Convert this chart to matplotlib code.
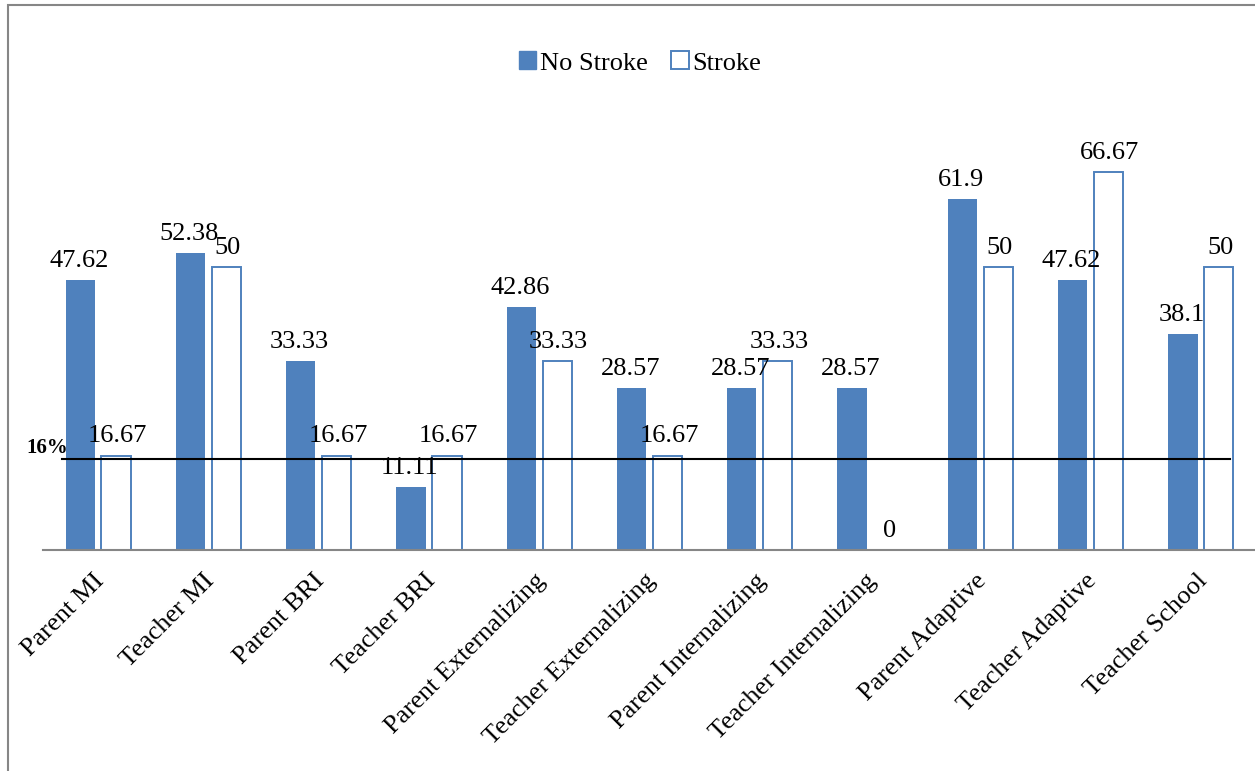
import numpy as np
import matplotlib.pyplot as plt
from matplotlib.patches import Rectangle, Patch
from matplotlib.transforms import ScaledTranslation

categories = ["Parent MI", "Teacher MI", "Parent BRI", "Teacher BRI",
              "Parent Externalizing", "Teacher Externalizing",
              "Parent Internalizing", "Teacher Internalizing",
              "Parent Adaptive", "Teacher Adaptive", "Teacher School"]
no_stroke = [47.62, 52.38, 33.33, 11.11, 42.86, 28.57, 28.57, 28.57, 61.9, 47.62, 38.1]
stroke = [16.67, 50, 16.67, 16.67, 33.33, 16.67, 33.33, 0, 50, 66.67, 50]
no_stroke_txt = ["47.62", "52.38", "33.33", "11.11", "42.86", "28.57", "28.57", "28.57", "61.9", "47.62", "38.1"]
stroke_txt = ["16.67", "50", "16.67", "16.67", "33.33", "16.67", "33.33", "0", "50", "66.67", "50"]
cutoff = 16

BLUE = "#4F81BD"
GRAY = "#868686"
plt.rcParams["font.family"] = ["Liberation Serif", "DejaVu Serif"]

fig = plt.figure(figsize=(12.55, 7.71), dpi=100)
ax = fig.add_axes([43 / 1255, 1 - 550 / 771, 1213 / 1255, 453 / 771])

x = np.arange(len(categories))
w = 0.265
off = 0.163
ax.bar(x - off, no_stroke, w, color=BLUE, edgecolor=BLUE, linewidth=0)
ax.bar(x + off, stroke, w, color="white", edgecolor=BLUE, linewidth=1.4)

for xi, v, t in zip(x, no_stroke, no_stroke_txt):
    ax.annotate(t, (xi - off, v), xytext=(-1, 6), textcoords="offset points",
                ha="center", va="bottom", fontsize=19)
for xi, v, t in zip(x, stroke, stroke_txt):
    ax.annotate(t, (xi + off, v), xytext=(1, 6), textcoords="offset points",
                ha="center", va="bottom", fontsize=19)

ax.plot([-0.33, 10.26], [cutoff, cutoff], color="black", lw=1.5, zorder=3)
ax.text(-0.65, cutoff + 0.3, "16%", fontsize=15, fontweight="bold",
        ha="left", va="bottom", clip_on=False)

ax.set_xlim(-0.5, 10.5)
ax.set_ylim(0, 80)
ax.set_xticks(x)
ax.set_xticklabels(categories, rotation=45, ha="right", rotation_mode="anchor", fontsize=19)
ax.tick_params(axis="x", length=0, pad=14)
shift = ScaledTranslation(-5 / 100, 0, fig.dpi_scale_trans)
for lab in ax.get_xticklabels():
    lab.set_transform(lab.get_transform() + shift)
ax.set_yticks([])
for s in ["top", "right", "left"]:
    ax.spines[s].set_visible(False)
ax.spines["bottom"].set_color(GRAY)
ax.spines["bottom"].set_linewidth(1.5)

handles = [Patch(facecolor=BLUE, edgecolor=BLUE, label="No Stroke"),
           Patch(facecolor="white", edgecolor=BLUE, linewidth=1.4, label="Stroke")]
fig.legend(handles=handles, loc="center", bbox_to_anchor=(640 / 1255, 1 - 63 / 771),
           ncol=2, frameon=False, fontsize=19, handlelength=0.65, handleheight=0.65,
           handletextpad=0.15, columnspacing=0.9)

fig.patches.append(Rectangle((8 / 1255, -0.1), 1.2, 1.1 - 5 / 771, transform=fig.transFigure,
                             fill=False, edgecolor=GRAY, linewidth=1.5))

fig.savefig("out.png", dpi=100)
